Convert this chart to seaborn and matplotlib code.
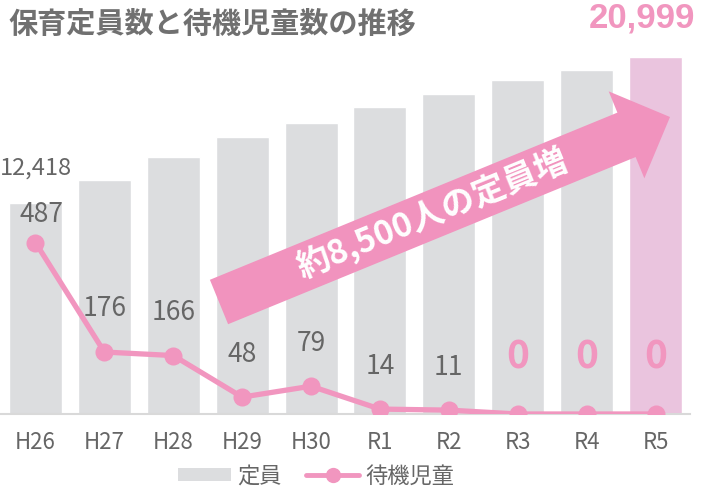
import numpy as np
import pandas as pd
import seaborn as sns
import matplotlib
matplotlib.use("Agg")
import matplotlib.pyplot as plt
import matplotlib.patches as mpatches
from matplotlib.lines import Line2D

# ---- data ----
years = ["H26", "H27", "H28", "H29", "H30", "R1", "R2", "R3", "R4", "R5"]
capacity = [12418, 13760, 15120, 16290, 17120, 18060, 18820, 19650, 20230, 20999]
waiting = [487, 176, 166, 48, 79, 14, 11, 0, 0, 0]
title = "保育定員数と待機児童数の推移"
arrow_text = "約8,500人の定員増"
legend_labels = ["定員", "待機児童"]

GRAY_BAR = "#DCDDDF"
PINK_BAR = "#EAC4DE"
PINK = "#F196BF"
TXT = "#666666"

sns.set_style("white")
plt.rcParams["font.family"] = ["Noto Sans CJK JP", "DejaVu Sans"]

fig = plt.figure(figsize=(7.02, 4.88), dpi=100)
ax = fig.add_axes([1 / 702, 1 - 414 / 488, 689 / 702, 357 / 488])

df = pd.DataFrame({"year": years, "cap": capacity, "wait": waiting})
bar_colors = [GRAY_BAR] * (len(years) - 1) + [PINK_BAR]
sns.barplot(data=df, x="year", y="cap", hue="year", palette=bar_colors,
            legend=False, width=0.77, saturation=1, ax=ax)
ax.set_ylim(0, 21000)
ax.set_xlim(-0.5, len(years) - 0.5)

ax2 = ax.twinx()
pos = np.arange(len(years))
sns.lineplot(x=pos, y=df["wait"].values, ax=ax2, color=PINK, linewidth=3.8,
             marker="o", markersize=13, markeredgewidth=0)
ax2.set_ylim(0, 1014)
ax2.set_xlim(-0.5, len(years) - 0.5)

for a in (ax, ax2):
    for s in a.spines.values():
        s.set_visible(False)
    a.set_yticks([])
    a.set_ylabel("")
    a.set_xlabel("")
ax.spines["bottom"].set_visible(True)
ax.spines["bottom"].set_color("#D9D9D9")
ax.spines["bottom"].set_linewidth(1.5)
ax.set_xticks(pos)
ax.set_xticklabels(years, fontsize=16, color=TXT)
ax.tick_params(axis="x", length=0, pad=12)

# bar labels
ax.annotate(f"{capacity[0]:,}", xy=(0, capacity[0]), xytext=(0, 25),
            textcoords="offset points", ha="center", va="center",
            fontsize=17, color=TXT)
ax.annotate(f"{capacity[-1]:,}", xy=(len(years) - 1, capacity[-1]), xytext=(-10, 28),
            textcoords="offset points", ha="center", va="center",
            fontsize=25, color=PINK, fontweight="bold", family="Liberation Sans",
            annotation_clip=False)

# line labels
for i, v in enumerate(waiting):
    if v == 0:
        ax2.annotate("0", xy=(i, v), xytext=(0, 41), textcoords="offset points",
                     ha="center", va="center", fontsize=28, color=PINK,
                     fontweight="bold")
    else:
        dy = 20 if i == 0 else 31
        dx = 4 if i == 0 else 0
        ax2.annotate(str(v), xy=(i, v), xytext=(dx, dy), textcoords="offset points",
                     ha="center", va="center", fontsize=19, color=TXT)

# arrow
arr = mpatches.FancyArrow(2.19, 1.86, 4.51, 1.85, width=0.48, head_width=0.94,
                          head_length=0.47, length_includes_head=True,
                          color="#F193BE", linewidth=0,
                          transform=fig.dpi_scale_trans, zorder=5)
fig.add_artist(arr)
fig.text(433 / 702, 1 - 214 / 488, arrow_text, rotation=22.3, rotation_mode="anchor",
         ha="center", va="center", fontsize=24, color="white", fontweight="bold",
         zorder=6)

# title
fig.text(8 / 702, 1 - 24 / 488, title, ha="left", va="center", fontsize=21,
         fontweight="bold", color="#707070")

# legend
handles = [mpatches.Patch(facecolor=GRAY_BAR, edgecolor="none"),
           Line2D([0], [0], color=PINK, lw=3.5, marker="o", markersize=11,
                  markeredgewidth=0)]
fig.legend(handles, legend_labels, loc="center", bbox_to_anchor=(316 / 702, 1 - 476 / 488),
           ncol=2, frameon=False, fontsize=16, labelcolor=TXT, handlelength=2.4,
           handletextpad=0.25, columnspacing=1.1, handleheight=0.55)

fig.savefig("out.png", dpi=100)
